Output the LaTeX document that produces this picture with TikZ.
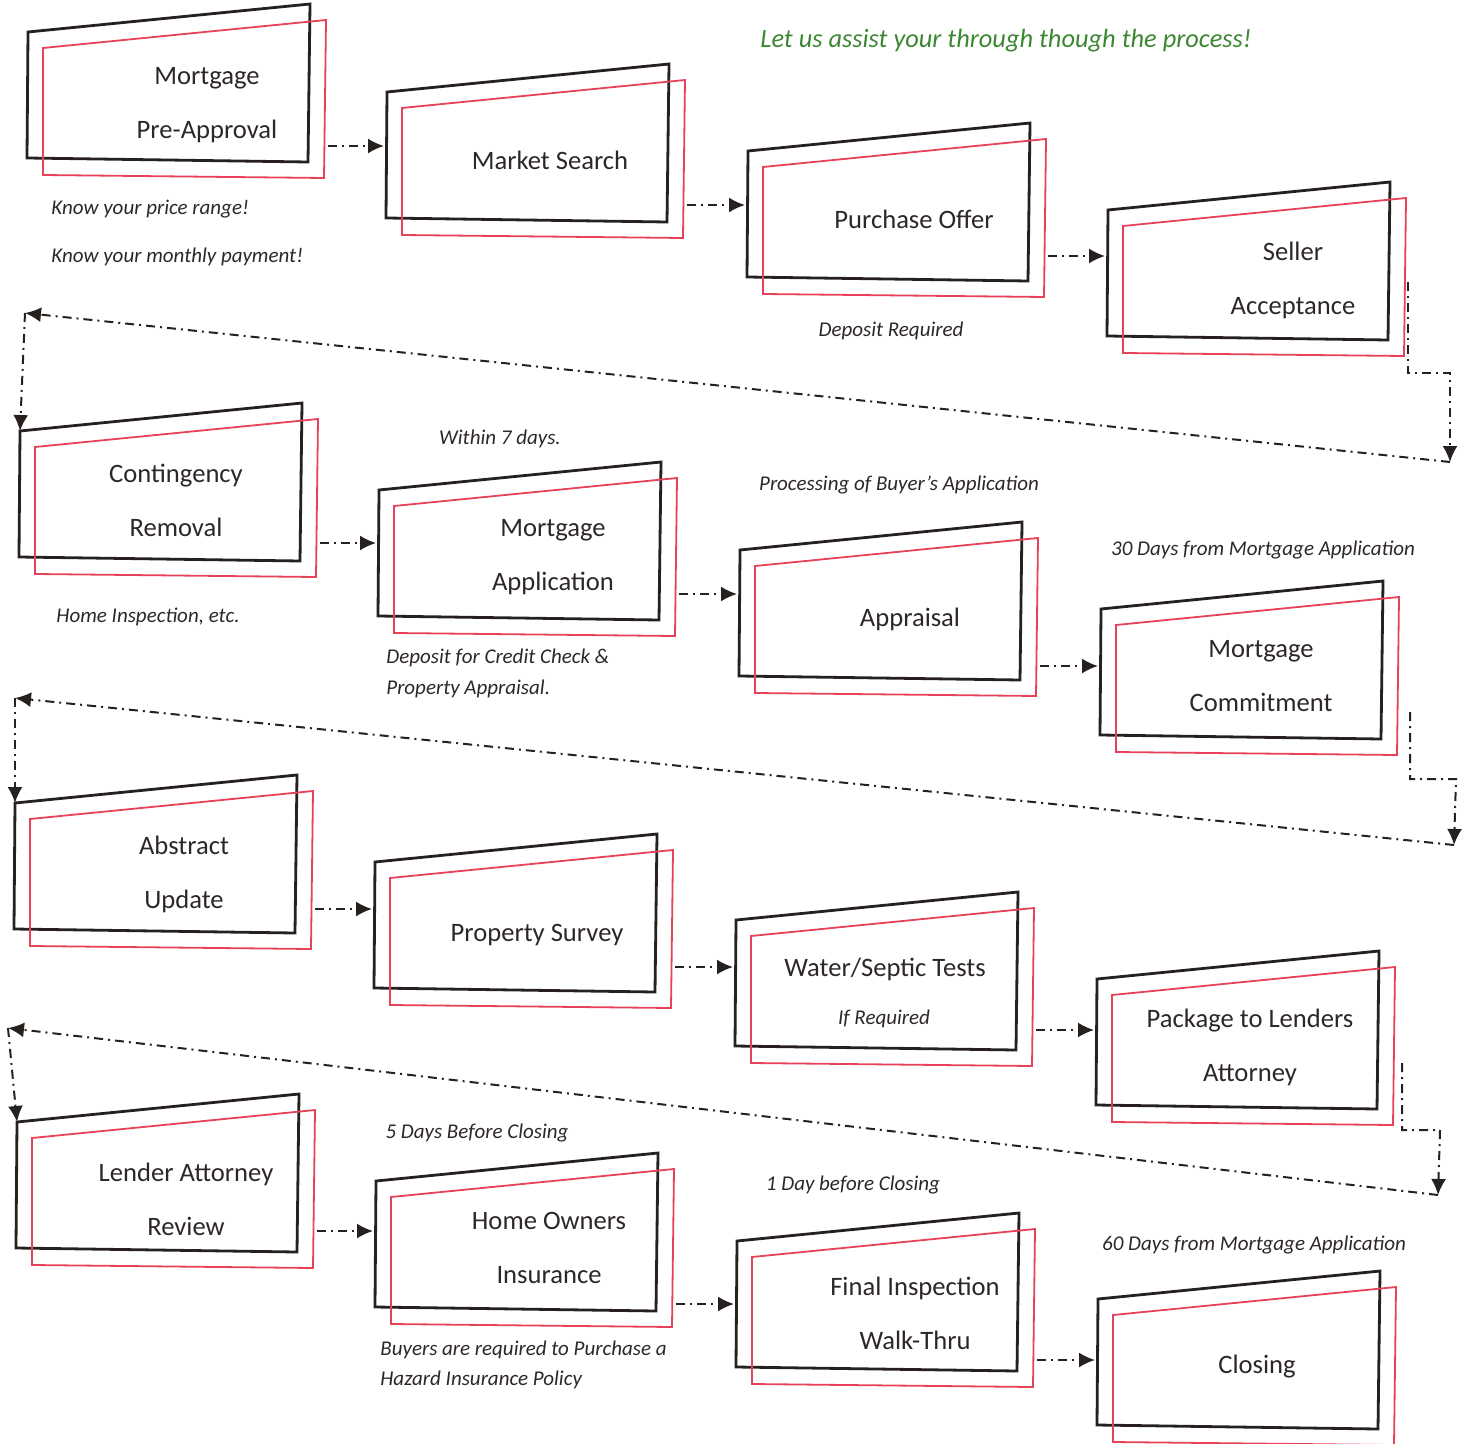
\documentclass[tikz,border=0pt]{standalone}
\usepackage{fontspec}
\setmainfont{Carlito}
\usetikzlibrary{arrows.meta}
\definecolor{frameink}{RGB}{38,33,30}
\definecolor{framered}{RGB}{232,66,88}
\definecolor{textink}{RGB}{45,40,38}
\definecolor{slogan}{RGB}{60,135,50}
% name, lower left corner of the black frame, height of the outgoing arrow
\newcommand{\stageframe}[4]{%
  \draw[blackframe] (#2,#3) -- (#2+1,#3-126) -- (#2+283,#3-154) -- (#2+281,#3+4) -- cycle;
  \draw[redframe] (#2+16,#3+17) -- (#2+16,#3-110) -- (#2+299,#3-138) -- (#2+297,#3+20) -- cycle;
  \coordinate (#1-in) at (#2-2,#3);
  \coordinate (#1-top) at (#2+1,#3-126);
  \coordinate (#1-out) at (#2+301,#4);}

\begin{document}
\begin{tikzpicture}[x=0.5pt,y=-0.5pt,
  blackframe/.style={draw=frameink,line width=1.4pt,line join=miter},
  redframe/.style={draw=framered,line width=0.9pt},
  stagetext/.style={align=center,text=textink,font=\fontsize{13.3}{27}\selectfont,inner sep=0pt},
  note/.style={align=left,text=textink,font=\fontsize{10.5}{15.5}\selectfont\itshape,inner sep=0pt},
  flow/.style={->,>={Latex[length=8pt,width=7.5pt]},draw=frameink,line width=1pt,
    dash pattern=on 4.5pt off 2.5pt on 1pt off 2.5pt}]
\useasboundingbox (0,0) rectangle (1466,1444);

\stageframe{preapp}{27}{158}{146}
\stageframe{market}{386}{218}{205}
\stageframe{offer}{747}{277}{256}
\stageframe{accept}{1107}{336}{0}
\stageframe{contin}{19}{557}{543}
\stageframe{mortapp}{378}{616}{594}
\stageframe{apprais}{739}{676}{666}
\stageframe{commit}{1100}{735}{0}
\stageframe{abstract}{14}{929}{909}
\stageframe{survey}{374}{988}{967}
\stageframe{septic}{735}{1046}{1030}
\stageframe{package}{1096}{1105}{0}
\stageframe{review}{16}{1248}{1231}
\stageframe{insure}{375}{1307}{1304}
\stageframe{walk}{736}{1367}{1360}
\stageframe{closing}{1097}{1425}{0}

\node[stagetext] (preapptext) at (207,105) {Mortgage\\Pre-Approval};
\node[stagetext] (markettext) at (550,160) {Market Search};
\node[stagetext] (offertext) at (914,219) {Purchase Offer};
\node[stagetext] (accepttext) at (1293,280) {Seller\\Acceptance};
\node[stagetext] (contintext) at (176,500) {Contingency\\Removal};
\node[stagetext] (mortapptext) at (553,557) {Mortgage\\Application};
\node[stagetext] (appraistext) at (910,619) {Appraisal};
\node[stagetext] (committext) at (1261,676) {Mortgage\\Commitment};
\node[stagetext] (abstracttext) at (184,874) {Abstract\\Update};
\node[stagetext] (surveytext) at (537,935) {Property Survey};
\node[stagetext] (septictext) at (885,969) {Water/Septic Tests};
\node[note] (septicnote) at (884,1019) {If Required};
\node[stagetext] (packagetext) at (1250,1047) {Package to Lenders\\Attorney};
\node[stagetext] (reviewtext) at (186,1199) {Lender Attorney\\Review};
\node[stagetext] (insuretext) at (549,1248) {Home Owners\\Insurance};
\node[stagetext] (walktext) at (915,1313) {Final Inspection\\Walk-Thru};
\node[stagetext] (closingtext) at (1257,1367) {Closing};

\node[note,text=slogan,font=\fontsize{13.2}{15}\selectfont\itshape] (slogan) at (1006,41) {Let us assist your through though the process!};
\node[note,anchor=west] (pricenote) at (51,209) {Know your price range!};
\node[note,anchor=west] (paynote) at (51,257) {Know your monthly payment!};
\node[note] (depositnote) at (891,331) {Deposit Required};
\node[note] (sevennote) at (500,439) {Within 7 days.};
\node[note] (processnote) at (899,485) {Processing of Buyer’s Application};
\node[note] (thirtynote) at (1263,550) {30 Days from Mortgage Application};
\node[note] (inspectnote) at (148,617) {Home Inspection, etc.};
\node[note,anchor=west] (creditnote) at (386,673) {Deposit for Credit Check \&\\Property Appraisal.};
\node[note] (fivenote) at (477,1133) {5 Days Before Closing};
\node[note] (onenote) at (853,1185) {1 Day before Closing};
\node[note] (sixtynote) at (1254,1245) {60 Days from Mortgage Application};
\node[note,anchor=west,font=\fontsize{10.5}{15}\selectfont\itshape] (hazardnote) at (380,1365) {Buyers are required to Purchase a\\Hazard Insurance Policy};

\coordinate (row1exit) at (1408,282); \coordinate (row1bend) at (1450,373); \coordinate (row1end) at (1450,462); \coordinate (row2start) at (25,313);
\coordinate (row2exit) at (1410,712); \coordinate (row2bend) at (1456,779); \coordinate (row2end) at (1454,845); \coordinate (row3start) at (15,698);
\coordinate (row3exit) at (1402,1063); \coordinate (row3bend) at (1440,1130); \coordinate (row3end) at (1438,1195); \coordinate (row4start) at (8,1028);

\draw[flow] (preapp-out) -- (preapp-out -| market-in); \draw[flow] (market-out) -- (market-out -| offer-in); \draw[flow] (offer-out) -- (offer-out -| accept-in);
\draw[flow] (row1exit) |- (row1bend) -- (row1end); \draw[flow] (row1end) -- (row2start); \draw[flow] (row2start) -- (contin-top);
\draw[flow] (contin-out) -- (contin-out -| mortapp-in); \draw[flow] (mortapp-out) -- (mortapp-out -| apprais-in); \draw[flow] (apprais-out) -- (apprais-out -| commit-in);
\draw[flow] (row2exit) |- (row2bend) -- (row2end); \draw[flow] (row2end) -- (row3start); \draw[flow] (row3start) -- (abstract-top);
\draw[flow] (abstract-out) -- (abstract-out -| survey-in); \draw[flow] (survey-out) -- (survey-out -| septic-in); \draw[flow] (septic-out) -- (septic-out -| package-in);
\draw[flow] (row3exit) |- (row3bend) -- (row3end); \draw[flow] (row3end) -- (row4start); \draw[flow] (row4start) -- (review-top);
\draw[flow] (review-out) -- (review-out -| insure-in); \draw[flow] (insure-out) -- (insure-out -| walk-in); \draw[flow] (walk-out) -- (walk-out -| closing-in);
\end{tikzpicture}
\end{document}
